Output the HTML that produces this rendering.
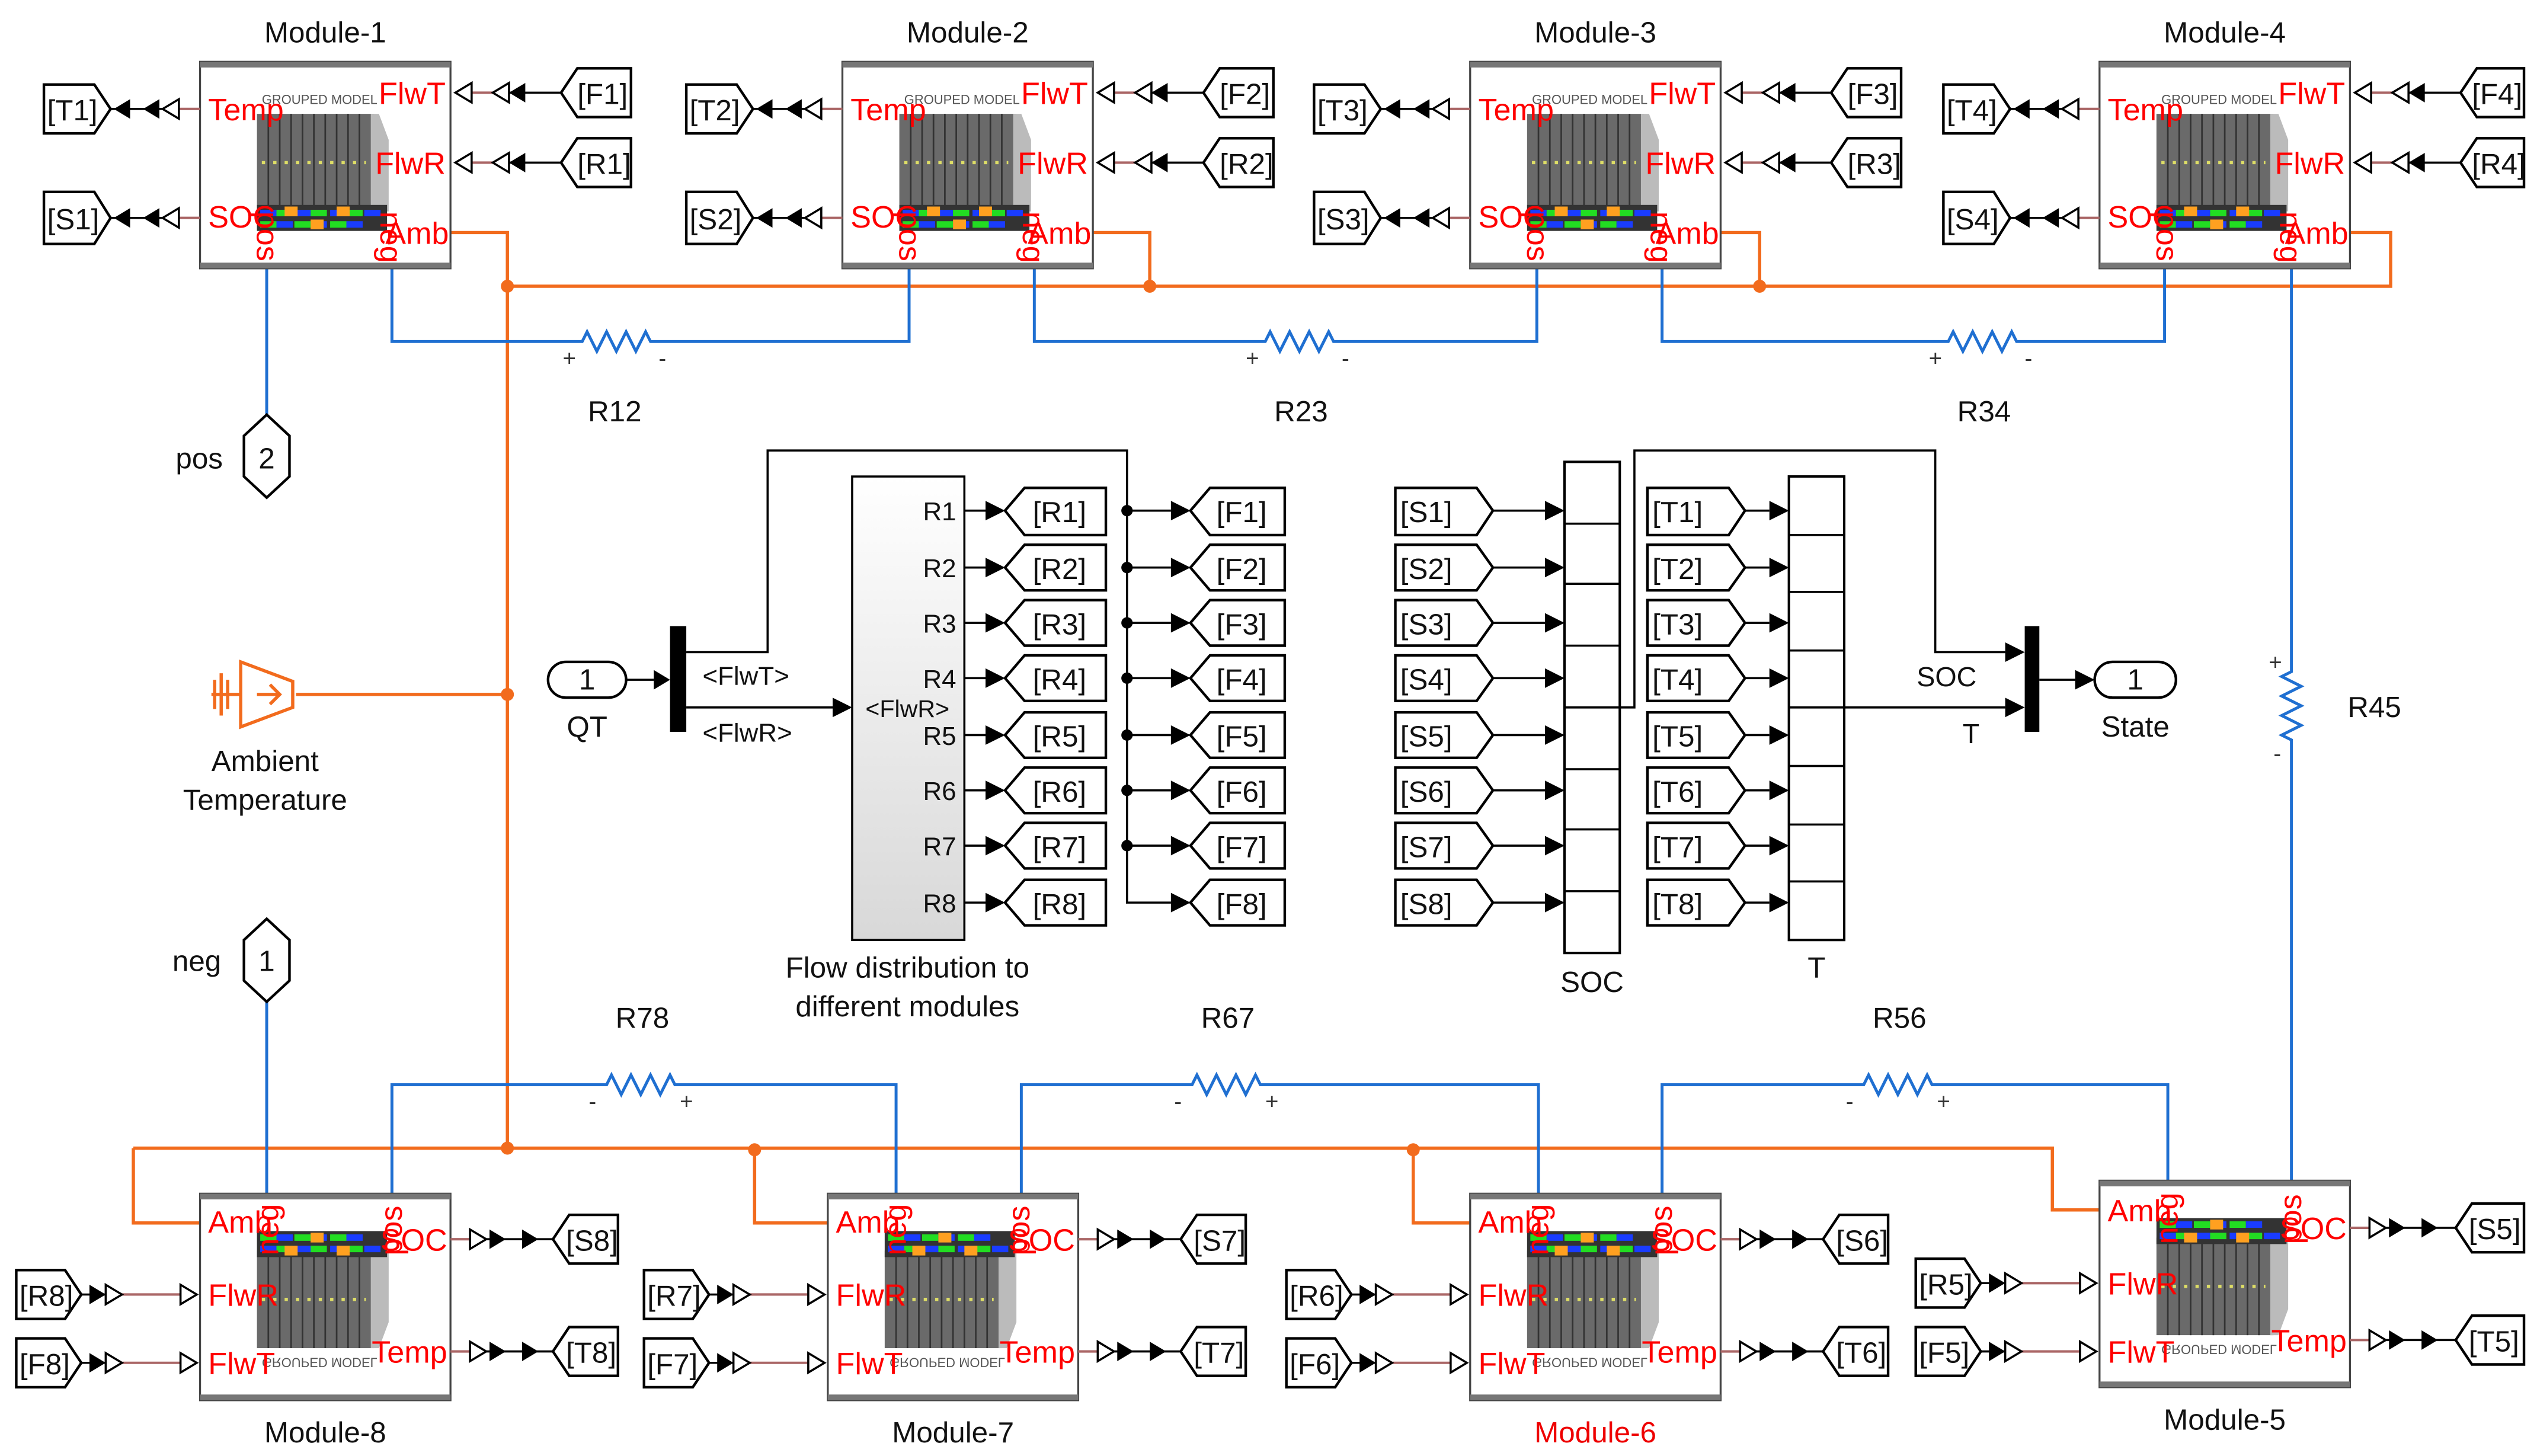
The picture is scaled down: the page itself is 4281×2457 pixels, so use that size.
<!DOCTYPE html>
<html><head><meta charset="utf-8"><style>
html,body{margin:0;padding:0;background:#fff;}
svg{display:block;}
text{font-family:"Liberation Sans",Arial,sans-serif;}
.t{font-size:18px;fill:#111;}
.r{font-size:19px;fill:#ff0000;}
.g{font-size:18px;fill:#111;}
.ln{stroke:#000;stroke-width:1.3;fill:none;}
.br{stroke:#a66;stroke-width:1.5;fill:none;}
.bl{stroke:#1f6fd1;stroke-width:1.8;fill:none;}
.or{stroke:#f26b1d;stroke-width:2;fill:none;}
.tag{fill:#fff;stroke:#000;stroke-width:1.6;}
.f{fill:#000;}
.h{fill:#fff;stroke:#000;stroke-width:1.3;}
</style></head><body>
<svg width="4281" height="2457" viewBox="0 0 1560 895.3" preserveAspectRatio="none" xmlns="http://www.w3.org/2000/svg">
<defs>
<g id="mi">
<rect x="0" y="0" width="154" height="127" fill="#fff" stroke="#444" stroke-width="1.2"/>
<rect x="0" y="0" width="154" height="3.5" fill="#777"/>
<rect x="0" y="123.5" width="154" height="3.5" fill="#777"/>
<text x="38" y="26" font-size="8" fill="#555" font-family="Liberation Mono,monospace">GROUPED MODEL</text>
<rect x="35" y="32" width="72" height="60" fill="#6a6a6a"/>
<path d="M42 32V92M49 32V92M56 32V92M63 32V92M70 32V92M77 32V92M84 32V92M91 32V92M98 32V92" stroke="#333" stroke-width="1"/>
<path d="M38 62h64" stroke="#dd6" stroke-width="2" stroke-dasharray="2 5"/>
<polygon points="105,32 110,32 116,48 116,92 105,92" fill="#bbb"/>
<rect x="35" y="88" width="80" height="16" fill="#333"/>
<path d="M37 93h10M58 93h10M80 93h10M101 93h10" stroke="#1a3cff" stroke-width="4"/>
<path d="M47 93h10M68 93h10M90 93h10" stroke="#22dd22" stroke-width="4"/>
<path d="M37 100h10M58 100h10M80 100h10" stroke="#22dd22" stroke-width="4"/>
<path d="M47 100h10M68 100h10M90 100h10" stroke="#1a3cff" stroke-width="4"/>
<rect x="52" y="89" width="8" height="6" fill="#ffa020"/><rect x="84" y="89" width="8" height="6" fill="#ffa020"/><rect x="68" y="97" width="8" height="6" fill="#ffa020"/>
</g>
</defs>

<!-- ORANGE WIRES -->
<path class="or" d="M277,143H312V706M312,176H1470V143H1445M672,143H707V176M1058,143H1082V176M182,427H312M82,706H1262V744H1291M82,706V752H123M464,706V752H509M869,706V752H904"/>
<g fill="#f26b1d"><circle cx="312" cy="176" r="4"/><circle cx="707" cy="176" r="4"/><circle cx="1082" cy="176" r="4"/><circle cx="312" cy="427" r="4"/><circle cx="312" cy="706" r="4"/><circle cx="464" cy="707" r="4"/><circle cx="869" cy="707" r="4"/></g>

<!-- BLUE WIRES -->
<path class="bl" d="M241,165V210H358l3,-6 6,12 6,-12 6,12 6,-12 6,12 6,-12 3,6H559V165"/>
<path class="bl" d="M636,165V210H778l3,-6 6,12 6,-12 6,12 6,-12 6,12 6,-12 3,6H945V165"/>
<path class="bl" d="M1022,165V210H1198l3,-6 6,12 6,-12 6,12 6,-12 6,12 6,-12 3,6H1331V165"/>
<path class="bl" d="M1409,165V413l-6,3 12,6 -12,6 12,6 -12,6 12,6 -12,6 6,3V727"/>
<path class="bl" d="M164,165V255M164,615V734"/>
<path class="bl" d="M241,734V667H373l3,-6 6,12 6,-12 6,12 6,-12 6,12 6,-12 3,6H551V734"/>
<path class="bl" d="M628,734V667H733l3,-6 6,12 6,-12 6,12 6,-12 6,12 6,-12 3,6H946V734"/>
<path class="bl" d="M1022,734V667H1146l3,-6 6,12 6,-12 6,12 6,-12 6,12 6,-12 3,6H1333V727"/>
<g font-size="14" fill="#333"><text x="346" y="225">+</text><text x="405" y="225">-</text><text x="766" y="225">+</text><text x="825" y="225">-</text><text x="1186" y="225">+</text><text x="1245" y="225">-</text>
<text x="1395" y="412">+</text><text x="1398" y="468">-</text>
<text x="362" y="682">-</text><text x="418" y="682">+</text><text x="722" y="682">-</text><text x="778" y="682">+</text><text x="1135" y="682">-</text><text x="1191" y="682">+</text></g>
<g class="t" text-anchor="middle"><text x="378" y="259">R12</text><text x="800" y="259">R23</text><text x="1220" y="259">R34</text><text x="1460" y="441">R45</text><text x="395" y="632">R78</text><text x="755" y="632">R67</text><text x="1168" y="632">R56</text></g>

<!-- pos/neg ports -->
<polygon class="tag" points="150,268 164,255 178,268 178,293 164,306 150,293"/>
<text class="t" x="164" y="288" text-anchor="middle">2</text><text class="t" x="108" y="288">pos</text>
<polygon class="tag" points="150,578 164,565 178,578 178,603 164,616 150,603"/>
<text class="t" x="164" y="597" text-anchor="middle">1</text><text class="t" x="106" y="597">neg</text>

<!-- Ambient temp -->
<g stroke="#f26b1d" stroke-width="2" fill="none"><path d="M132,418V436M136,414V440M140,418V436M130,427H148"/><polygon points="148,407 148,447 180,435 180,419"/><path d="M158,427h14M166,421l6,6 -6,6"/></g>
<text class="t" x="163" y="474" text-anchor="middle">Ambient</text><text class="t" x="163" y="498" text-anchor="middle">Temperature</text>

<!-- TOP MODULES -->
<use href="#mi" x="123" y="38"/><use href="#mi" x="518" y="38"/><use href="#mi" x="904" y="38"/><use href="#mi" x="1291" y="38"/>
<g class="t" text-anchor="middle"><text x="200" y="26">Module-1</text><text x="595" y="26">Module-2</text><text x="981" y="26">Module-3</text><text x="1368" y="26">Module-4</text></g>
<g class="r">
<text x="128" y="74">Temp</text><text x="128" y="140">SOC</text><text x="274" y="64" text-anchor="end">FlwT</text><text x="274" y="107" text-anchor="end">FlwR</text><text x="276" y="150" text-anchor="end">Amb</text>
<text x="523" y="74">Temp</text><text x="523" y="140">SOC</text><text x="669" y="64" text-anchor="end">FlwT</text><text x="669" y="107" text-anchor="end">FlwR</text><text x="671" y="150" text-anchor="end">Amb</text>
<text x="909" y="74">Temp</text><text x="909" y="140">SOC</text><text x="1055" y="64" text-anchor="end">FlwT</text><text x="1055" y="107" text-anchor="end">FlwR</text><text x="1057" y="150" text-anchor="end">Amb</text>
<text x="1296" y="74">Temp</text><text x="1296" y="140">SOC</text><text x="1442" y="64" text-anchor="end">FlwT</text><text x="1442" y="107" text-anchor="end">FlwR</text><text x="1444" y="150" text-anchor="end">Amb</text>
<text transform="translate(158,130) rotate(90)">pos</text><text transform="translate(234,130) rotate(90)">neg</text>
<text transform="translate(553,130) rotate(90)">pos</text><text transform="translate(629,130) rotate(90)">neg</text>
<text transform="translate(939,130) rotate(90)">pos</text><text transform="translate(1015,130) rotate(90)">neg</text>
<text transform="translate(1326,130) rotate(90)">pos</text><text transform="translate(1402,130) rotate(90)">neg</text>
</g>
<!-- top tags & arrows -->
<g>
<!-- M1 -->
<polygon class="tag" points="27,52 58,52 68,67 58,82 27,82"/><polygon class="tag" points="27,118 58,118 68,134 58,150 27,150"/>
<polygon class="tag" points="345,57 355,42 388,42 388,72 355,72"/><polygon class="tag" points="345,100 355,85 388,85 388,115 355,115"/>
<path class="ln" d="M68,67H100M68,134H100M313,57H345M313,100H345"/><path class="br" d="M110,67H123M110,134H123M290,57H303M290,100H303"/>
<path class="f" d="M70,67l10,-6v12zM88,67l10,-6v12zM70,134l10,-6v12zM88,134l10,-6v12zM313,57l10,-6v12zM313,100l10,-6v12z"/>
<path class="h" d="M100,67l10,-6v12zM100,134l10,-6v12zM280,57l10,-6v12zM280,100l10,-6v12zM303,57l10,-6v12zM303,100l10,-6v12z"/>
<!-- M2 -->
<polygon class="tag" points="422,52 453,52 463,67 453,82 422,82"/><polygon class="tag" points="422,118 453,118 463,134 453,150 422,150"/>
<polygon class="tag" points="740,57 750,42 783,42 783,72 750,72"/><polygon class="tag" points="740,100 750,85 783,85 783,115 750,115"/>
<path class="ln" d="M463,67H495M463,134H495M708,57H740M708,100H740"/><path class="br" d="M505,67H518M505,134H518M685,57H698M685,100H698"/>
<path class="f" d="M465,67l10,-6v12zM483,67l10,-6v12zM465,134l10,-6v12zM483,134l10,-6v12zM708,57l10,-6v12zM708,100l10,-6v12z"/>
<path class="h" d="M495,67l10,-6v12zM495,134l10,-6v12zM675,57l10,-6v12zM675,100l10,-6v12zM698,57l10,-6v12zM698,100l10,-6v12z"/>
<!-- M3 -->
<polygon class="tag" points="808,52 839,52 849,67 839,82 808,82"/><polygon class="tag" points="808,118 839,118 849,134 839,150 808,150"/>
<polygon class="tag" points="1126,57 1136,42 1169,42 1169,72 1136,72"/><polygon class="tag" points="1126,100 1136,85 1169,85 1169,115 1136,115"/>
<path class="ln" d="M849,67H881M849,134H881M1094,57H1126M1094,100H1126"/><path class="br" d="M891,67H904M891,134H904M1071,57H1084M1071,100H1084"/>
<path class="f" d="M851,67l10,-6v12zM869,67l10,-6v12zM851,134l10,-6v12zM869,134l10,-6v12zM1094,57l10,-6v12zM1094,100l10,-6v12z"/>
<path class="h" d="M881,67l10,-6v12zM881,134l10,-6v12zM1061,57l10,-6v12zM1061,100l10,-6v12zM1084,57l10,-6v12zM1084,100l10,-6v12z"/>
<!-- M4 -->
<polygon class="tag" points="1195,52 1226,52 1236,67 1226,82 1195,82"/><polygon class="tag" points="1195,118 1226,118 1236,134 1226,150 1195,150"/>
<polygon class="tag" points="1513,57 1523,42 1552,42 1552,72 1523,72"/><polygon class="tag" points="1513,100 1523,85 1552,85 1552,115 1523,115"/>
<path class="ln" d="M1236,67H1268M1236,134H1268M1481,57H1513M1481,100H1513"/><path class="br" d="M1278,67H1291M1278,134H1291M1458,57H1471M1458,100H1471"/>
<path class="f" d="M1238,67l10,-6v12zM1256,67l10,-6v12zM1238,134l10,-6v12zM1256,134l10,-6v12zM1481,57l10,-6v12zM1481,100l10,-6v12z"/>
<path class="h" d="M1268,67l10,-6v12zM1268,134l10,-6v12zM1448,57l10,-6v12zM1448,100l10,-6v12zM1471,57l10,-6v12zM1471,100l10,-6v12z"/>
</g>
<g class="g">
<text x="29" y="74">[T1]</text><text x="29" y="141">[S1]</text><text x="355" y="64">[F1]</text><text x="355" y="107">[R1]</text>
<text x="424" y="74">[T2]</text><text x="424" y="141">[S2]</text><text x="750" y="64">[F2]</text><text x="750" y="107">[R2]</text>
<text x="810" y="74">[T3]</text><text x="810" y="141">[S3]</text><text x="1136" y="64">[F3]</text><text x="1136" y="107">[R3]</text>
<text x="1197" y="74">[T4]</text><text x="1197" y="141">[S4]</text><text x="1520" y="64">[F4]</text><text x="1520" y="107">[R4]</text>
</g>

<!-- BOTTOM MODULES -->
<use href="#mi" transform="translate(123,861) scale(1,-1)"/><use href="#mi" transform="translate(509,861) scale(1,-1)"/><use href="#mi" transform="translate(904,861) scale(1,-1)"/><use href="#mi" transform="translate(1291,853) scale(1,-1)"/>
<g class="t" text-anchor="middle"><text x="200" y="887">Module-8</text><text x="586" y="887">Module-7</text><text x="981" y="887" fill="#e00">Module-6</text><text x="1368" y="879">Module-5</text></g>
<g class="r">
<text x="128" y="758">Amb</text><text x="275" y="769" text-anchor="end">SOC</text><text x="128" y="803">FlwR</text><text x="128" y="845">FlwT</text><text x="275" y="838" text-anchor="end">Temp</text>
<text x="514" y="758">Amb</text><text x="661" y="769" text-anchor="end">SOC</text><text x="514" y="803">FlwR</text><text x="514" y="845">FlwT</text><text x="661" y="838" text-anchor="end">Temp</text>
<text x="909" y="758">Amb</text><text x="1056" y="769" text-anchor="end">SOC</text><text x="909" y="803">FlwR</text><text x="909" y="845">FlwT</text><text x="1056" y="838" text-anchor="end">Temp</text>
<text x="1296" y="751">Amb</text><text x="1443" y="762" text-anchor="end">SOC</text><text x="1296" y="796">FlwR</text><text x="1296" y="838">FlwT</text><text x="1443" y="831" text-anchor="end">Temp</text>
<text transform="translate(171,772) rotate(-90)">neg</text><text transform="translate(247,772) rotate(-90)">pos</text>
<text transform="translate(557,772) rotate(-90)">neg</text><text transform="translate(633,772) rotate(-90)">pos</text>
<text transform="translate(952,772) rotate(-90)">neg</text><text transform="translate(1028,772) rotate(-90)">pos</text>
<text transform="translate(1339,765) rotate(-90)">neg</text><text transform="translate(1415,765) rotate(-90)">pos</text>
</g>
<g>
<!-- M8 -->
<polygon class="tag" points="340,762 350,747 380,747 380,777 350,777"/><polygon class="tag" points="340,831 350,816 380,816 380,846 350,846"/>
<polygon class="tag" points="10,781 40,781 50,796 40,811 10,811"/><polygon class="tag" points="10,823 40,823 50,838 40,853 10,853"/>
<path class="ln" d="M299,762H340M299,831H340M50,796H65M50,838H65"/><path class="br" d="M277,762H289M277,831H289M75,796H111M75,838H111"/>
<path class="f" d="M311,762l-10,-6v12zM331,762l-10,-6v12zM311,831l-10,-6v12zM331,831l-10,-6v12zM65,796l-10,-6v12zM65,838l-10,-6v12z"/>
<path class="h" d="M299,762l-10,-6v12zM299,831l-10,-6v12zM75,796l-10,-6v12zM75,838l-10,-6v12zM121,796l-10,-6v12zM121,838l-10,-6v12z"/>
<!-- M7 -->
<polygon class="tag" points="726,762 736,747 766,747 766,777 736,777"/><polygon class="tag" points="726,831 736,816 766,816 766,846 736,846"/>
<polygon class="tag" points="396,781 426,781 436,796 426,811 396,811"/><polygon class="tag" points="396,823 426,823 436,838 426,853 396,853"/>
<path class="ln" d="M685,762H726M685,831H726M436,796H451M436,838H451"/><path class="br" d="M663,762H675M663,831H675M461,796H497M461,838H497"/>
<path class="f" d="M697,762l-10,-6v12zM717,762l-10,-6v12zM697,831l-10,-6v12zM717,831l-10,-6v12zM451,796l-10,-6v12zM451,838l-10,-6v12z"/>
<path class="h" d="M685,762l-10,-6v12zM685,831l-10,-6v12zM461,796l-10,-6v12zM461,838l-10,-6v12zM507,796l-10,-6v12zM507,838l-10,-6v12z"/>
<!-- M6 -->
<polygon class="tag" points="1121,762 1131,747 1161,747 1161,777 1131,777"/><polygon class="tag" points="1121,831 1131,816 1161,816 1161,846 1131,846"/>
<polygon class="tag" points="791,781 821,781 831,796 821,811 791,811"/><polygon class="tag" points="791,823 821,823 831,838 821,853 791,853"/>
<path class="ln" d="M1080,762H1121M1080,831H1121M831,796H846M831,838H846"/><path class="br" d="M1058,762H1070M1058,831H1070M856,796H892M856,838H892"/>
<path class="f" d="M1092,762l-10,-6v12zM1112,762l-10,-6v12zM1092,831l-10,-6v12zM1112,831l-10,-6v12zM846,796l-10,-6v12zM846,838l-10,-6v12z"/>
<path class="h" d="M1080,762l-10,-6v12zM1080,831l-10,-6v12zM856,796l-10,-6v12zM856,838l-10,-6v12zM902,796l-10,-6v12zM902,838l-10,-6v12z"/>
<!-- M5 -->
<polygon class="tag" points="1510,755 1520,740 1552,740 1552,770 1520,770"/><polygon class="tag" points="1510,824 1520,809 1552,809 1552,839 1520,839"/>
<polygon class="tag" points="1178,774 1208,774 1218,789 1208,804 1178,804"/><polygon class="tag" points="1178,816 1208,816 1218,831 1208,846 1178,846"/>
<path class="ln" d="M1467,755H1510M1467,824H1510M1218,789H1233M1218,831H1233"/><path class="br" d="M1445,755H1457M1445,824H1457M1243,789H1279M1243,831H1279"/>
<path class="f" d="M1479,755l-10,-6v12zM1499,755l-10,-6v12zM1479,824l-10,-6v12zM1499,824l-10,-6v12zM1233,789l-10,-6v12zM1233,831l-10,-6v12z"/>
<path class="h" d="M1467,755l-10,-6v12zM1467,824l-10,-6v12zM1243,789l-10,-6v12zM1243,831l-10,-6v12zM1289,789l-10,-6v12zM1289,831l-10,-6v12z"/>
</g>
<g class="g">
<text x="348" y="769">[S8]</text><text x="348" y="838">[T8]</text><text x="12" y="803">[R8]</text><text x="12" y="845">[F8]</text>
<text x="734" y="769">[S7]</text><text x="734" y="838">[T7]</text><text x="398" y="803">[R7]</text><text x="398" y="845">[F7]</text>
<text x="1129" y="769">[S6]</text><text x="1129" y="838">[T6]</text><text x="793" y="803">[R6]</text><text x="793" y="845">[F6]</text>
<text x="1518" y="762">[S5]</text><text x="1518" y="831">[T5]</text><text x="1180" y="796">[R5]</text><text x="1180" y="838">[F5]</text>
</g>

<!-- MIDDLE: flow distribution -->
<defs><linearGradient id="gr" x1="0" y1="0" x2="0" y2="1"><stop offset="0" stop-color="#fff"/><stop offset="1" stop-color="#d8d8d8"/></linearGradient></defs>
<rect x="337" y="407" width="48" height="22" rx="11" class="tag"/><text class="g" x="361" y="424" text-anchor="middle">1</text><text class="g" x="361" y="453" text-anchor="middle">QT</text>
<path class="ln" d="M385,418H402"/><path class="f" d="M412,418l-10,-6v12z"/>
<rect x="412" y="385" width="10" height="65" fill="#000"/>
<path class="ln" d="M422,401H472V277H693V555H720M422,435H512"/><path class="f" d="M524,435l-12,-6v12z"/>
<text x="432" y="421" font-size="16" fill="#111">&lt;FlwT&gt;</text><text x="432" y="456" font-size="16" fill="#111">&lt;FlwR&gt;</text>
<rect x="524" y="293" width="69" height="285" fill="url(#gr)" stroke="#000" stroke-width="1.3"/>
<text x="558" y="441" font-size="15" fill="#111" text-anchor="middle">&lt;FlwR&gt;</text>
<g font-size="16" fill="#111" text-anchor="end">
<text x="588" y="320">R1</text><text x="588" y="355">R2</text><text x="588" y="389">R3</text><text x="588" y="423">R4</text><text x="588" y="458">R5</text><text x="588" y="492">R6</text><text x="588" y="526">R7</text><text x="588" y="561">R8</text></g>
<path class="ln" d="M593,314H606M593,349H606M593,383H606M593,417H606M593,452H606M593,486H606M593,520H606M593,555H606M693,314H720M693,349H720M693,383H720M693,417H720M693,452H720M693,486H720M693,520H720"/>
<path class="f" d="M618,314l-12,-6v12zM618,349l-12,-6v12zM618,383l-12,-6v12zM618,417l-12,-6v12zM618,452l-12,-6v12zM618,486l-12,-6v12zM618,520l-12,-6v12zM618,555l-12,-6v12zM732,314l-12,-6v12zM732,349l-12,-6v12zM732,383l-12,-6v12zM732,417l-12,-6v12zM732,452l-12,-6v12zM732,486l-12,-6v12zM732,520l-12,-6v12zM732,555l-12,-6v12z"/>
<g class="f"><circle cx="693" cy="314" r="3.5"/><circle cx="693" cy="349" r="3.5"/><circle cx="693" cy="383" r="3.5"/><circle cx="693" cy="417" r="3.5"/><circle cx="693" cy="452" r="3.5"/><circle cx="693" cy="486" r="3.5"/><circle cx="693" cy="520" r="3.5"/></g>
<g class="tag">
<polygon points="618,314 630,300 680,300 680,329 630,329"/><polygon points="618,349 630,335 680,335 680,363 630,363"/><polygon points="618,383 630,369 680,369 680,397 630,397"/><polygon points="618,417 630,403 680,403 680,431 630,431"/><polygon points="618,452 630,438 680,438 680,466 630,466"/><polygon points="618,486 630,472 680,472 680,500 630,500"/><polygon points="618,520 630,506 680,506 680,534 630,534"/><polygon points="618,555 630,541 680,541 680,569 630,569"/>
<polygon points="732,314 744,300 790,300 790,329 744,329"/><polygon points="732,349 744,335 790,335 790,363 744,363"/><polygon points="732,383 744,369 790,369 790,397 744,397"/><polygon points="732,417 744,403 790,403 790,431 744,431"/><polygon points="732,452 744,438 790,438 790,466 744,466"/><polygon points="732,486 744,472 790,472 790,500 744,500"/><polygon points="732,520 744,506 790,506 790,534 744,534"/><polygon points="732,555 744,541 790,541 790,569 744,569"/>
</g>
<g class="g">
<text x="635" y="321">[R1]</text><text x="635" y="356">[R2]</text><text x="635" y="390">[R3]</text><text x="635" y="424">[R4]</text><text x="635" y="459">[R5]</text><text x="635" y="493">[R6]</text><text x="635" y="527">[R7]</text><text x="635" y="562">[R8]</text>
<text x="748" y="321">[F1]</text><text x="748" y="356">[F2]</text><text x="748" y="390">[F3]</text><text x="748" y="424">[F4]</text><text x="748" y="459">[F5]</text><text x="748" y="493">[F6]</text><text x="748" y="527">[F7]</text><text x="748" y="562">[F8]</text>
</g>
<text class="t" x="558" y="601" text-anchor="middle">Flow distribution to</text><text class="t" x="558" y="625" text-anchor="middle">different modules</text>

<!-- SOC / T muxes -->
<g class="tag">
<polygon points="858,300 908,300 918,314 908,329 858,329"/><polygon points="858,335 908,335 918,349 908,363 858,363"/><polygon points="858,369 908,369 918,383 908,397 858,397"/><polygon points="858,403 908,403 918,417 908,431 858,431"/><polygon points="858,438 908,438 918,452 908,466 858,466"/><polygon points="858,472 908,472 918,486 908,500 858,500"/><polygon points="858,506 908,506 918,520 908,534 858,534"/><polygon points="858,541 908,541 918,555 908,569 858,569"/>
<polygon points="1013,300 1063,300 1073,314 1063,329 1013,329"/><polygon points="1013,335 1063,335 1073,349 1063,363 1013,363"/><polygon points="1013,369 1063,369 1073,383 1063,397 1013,397"/><polygon points="1013,403 1063,403 1073,417 1063,431 1013,431"/><polygon points="1013,438 1063,438 1073,452 1063,466 1013,466"/><polygon points="1013,472 1063,472 1073,486 1063,500 1013,500"/><polygon points="1013,506 1063,506 1073,520 1063,534 1013,534"/><polygon points="1013,541 1063,541 1073,555 1063,569 1013,569"/>
</g>
<g class="g">
<text x="861" y="321">[S1]</text><text x="861" y="356">[S2]</text><text x="861" y="390">[S3]</text><text x="861" y="424">[S4]</text><text x="861" y="459">[S5]</text><text x="861" y="493">[S6]</text><text x="861" y="527">[S7]</text><text x="861" y="562">[S8]</text>
<text x="1016" y="321">[T1]</text><text x="1016" y="356">[T2]</text><text x="1016" y="390">[T3]</text><text x="1016" y="424">[T4]</text><text x="1016" y="459">[T5]</text><text x="1016" y="493">[T6]</text><text x="1016" y="527">[T7]</text><text x="1016" y="562">[T8]</text>
</g>
<path class="ln" d="M918,314H950M918,349H950M918,383H950M918,417H950M918,452H950M918,486H950M918,520H950M918,555H950M1073,314H1088M1073,349H1088M1073,383H1088M1073,417H1088M1073,452H1088M1073,486H1088M1073,520H1088M1073,555H1088"/>
<path class="f" d="M962,314l-12,-6v12zM962,349l-12,-6v12zM962,383l-12,-6v12zM962,417l-12,-6v12zM962,452l-12,-6v12zM962,486l-12,-6v12zM962,520l-12,-6v12zM962,555l-12,-6v12zM1100,314l-12,-6v12zM1100,349l-12,-6v12zM1100,383l-12,-6v12zM1100,417l-12,-6v12zM1100,452l-12,-6v12zM1100,486l-12,-6v12zM1100,520l-12,-6v12zM1100,555l-12,-6v12z"/>
<rect x="962" y="284" width="34" height="302" fill="#fff" stroke="#000" stroke-width="1.5"/>
<path class="ln" d="M962,322H996M962,359H996M962,397H996M962,435H996M962,473H996M962,510H996M962,548H996"/>
<rect x="1100" y="293" width="34" height="285" fill="#fff" stroke="#000" stroke-width="1.5"/>
<path class="ln" d="M1100,329H1134M1100,364H1134M1100,400H1134M1100,435H1134M1100,471H1134M1100,507H1134M1100,542H1134"/>
<text class="t" x="979" y="610" text-anchor="middle">SOC</text><text class="t" x="1117" y="601" text-anchor="middle">T</text>
<path class="ln" d="M996,435H1005V277H1190V401H1233M1134,435H1233M1254,418H1276"/>
<path class="f" d="M1245,401l-12,-6v12zM1245,435l-12,-6v12zM1288,418l-12,-6v12z"/>
<rect x="1245" y="385" width="9" height="65" fill="#000"/>
<text x="1197" y="422" font-size="17" fill="#111" text-anchor="middle">SOC</text><text x="1212" y="457" font-size="17" fill="#111" text-anchor="middle">T</text>
<rect x="1288" y="407" width="50" height="22" rx="11" class="tag"/><text class="g" x="1313" y="424" text-anchor="middle">1</text><text class="g" x="1313" y="453" text-anchor="middle">State</text>
</svg>
</body></html>
